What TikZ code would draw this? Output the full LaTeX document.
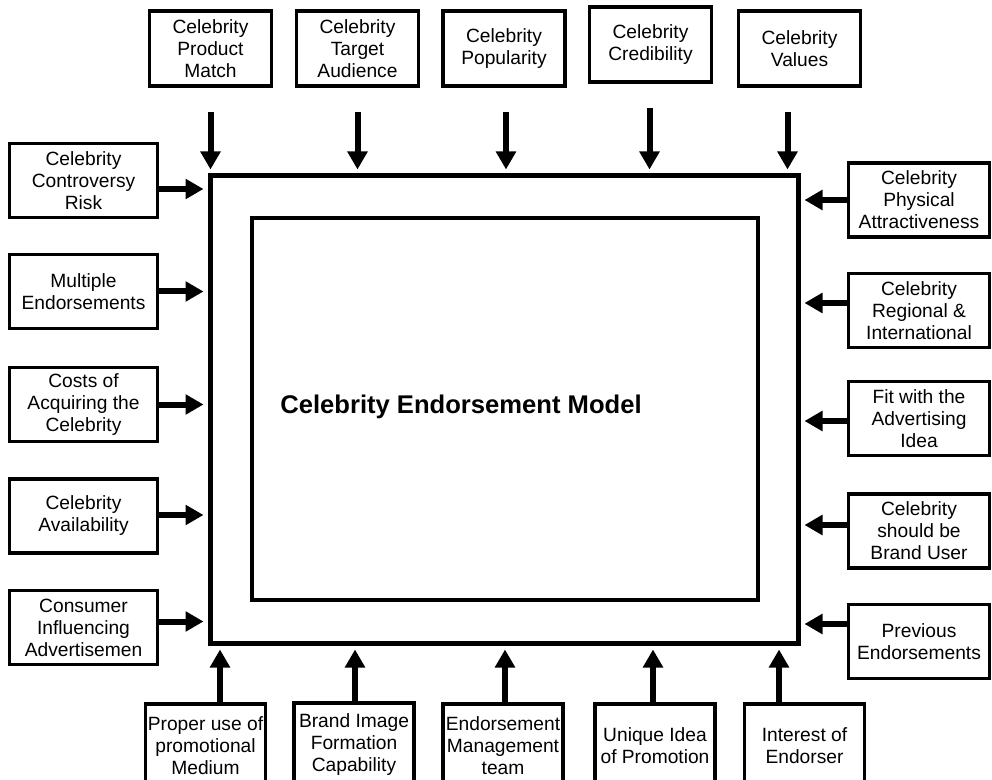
\documentclass[tikz,border=0pt]{standalone}
\usepackage{fontspec}
\setmainfont{Liberation Sans}
\usetikzlibrary{calc,arrows.meta}
\newcommand{\px}{0.75pt}
\newcommand{\boxline}{2.6pt}

\tikzset{
  box/.style={draw, line width=\boxline, align=center, inner sep=0pt,
    font=\fontsize{14.4pt}{16.5pt}\selectfont},
  topbox/.style={box, minimum width=122*\px, minimum height=75*\px},
  leftbox/.style={box, minimum width=148*\px, minimum height=74*\px},
  rightbox/.style={box, minimum width=141*\px, minimum height=74*\px},
  botbox/.style={box, minimum width=120*\px, minimum height=84*\px},
  arr/.style={line width=4.5pt, -{Triangle[width=14.5pt,length=13.5pt]}, shorten >=3pt},
}

\begin{document}
\begin{tikzpicture}[x=0.75pt, y=-0.75pt]
\useasboundingbox (0,0) rectangle (992,780);
\clip (0,0) rectangle (992,780);

    % model frame
    \node[draw, line width=3.75pt, minimum width=588*\px, minimum height=467*\px] (outer) at (504,409.5) {};
    \node[draw, line width=3.4pt, minimum width=506*\px, minimum height=382*\px] (inner) at (505,409) {};
    \node[font=\bfseries\fontsize{19.2pt}{22pt}\selectfont] (title) at (461,407) {Celebrity Endorsement Model};

    % top
    \node[topbox] (t1) at (210.5,48.5) {Celebrity\\Product\\Match};
    \node[topbox] (t2) at (357.5,48.5) {Celebrity\\Target\\Audience};
    \node[topbox] (t3) at (504,48.5) {Celebrity\\Popularity};
    \node[topbox] (t4) at (650.5,44.5) {Celebrity\\Credibility};
    \node[topbox] (t5) at (799.5,48.5) {Celebrity\\Values};

    % left
    \node[leftbox] (l1) at (83.5,180.5) {Celebrity\\Controversy\\Risk};
    \node[leftbox] (l2) at (83.5,291.5) {Multiple\\Endorsements};
    \node[leftbox] (l3) at (83.5,404.5) {Costs of\\Acquiring the\\Celebrity};
    \node[leftbox] (l4) at (83.5,516) {Celebrity\\Availability};
    \node[leftbox] (l5) at (83.5,627.5) {Consumer\\Influencing\\Advertisemen};

    % right
    \node[rightbox] (r1) at (919,200) {Celebrity\\Physical\\Attractiveness};
    \node[rightbox] (r2) at (919,310.5) {Celebrity\\Regional \&\\International};
    \node[rightbox] (r3) at (919,418.5) {Fit with the\\Advertising\\Idea};
    \node[rightbox] (r4) at (919,531) {Celebrity\\should be\\Brand User};
    \node[rightbox] (r5) at (919,641.5) {Previous\\Endorsements};

    % bottom
    \node[botbox] (b1) at (205.5,746) {Proper use of\\promotional\\Medium};
    \node[botbox] (b2) at (354,745) {Brand Image\\Formation\\Capability};
    \node[botbox] (b3) at (503,746) {Endorsement\\Management\\team};
    \node[botbox] (b4) at (655,746) {Unique Idea\\of Promotion};
    \node[botbox] (b5) at (804.5,746) {Interest of\\Endorser};

    % arrows
    \foreach \n/\d in {1/0,2/0,3/2,4/-1,5/-12} {
        \draw[arr] ($(t\n.south)+(\d,24)$) coordinate (ts\n) -- (ts\n |- outer.north);
    }
    \foreach \n/\d in {1/8.5,2/0,3/0,4/-1,5/-6} {
        \draw[arr] ($(l\n.east)+(0,\d)$) coordinate (ls\n) -- (ls\n -| outer.west);
    }
    \foreach \n/\d in {1/0,2/-7.5,3/2.5,4/-6,5/-17.5} {
        \draw[arr] ($(r\n.west)+(0,\d)$) coordinate (rs\n) -- (rs\n -| outer.east);
    }
    \foreach \n/\d in {1/14.5,2/1,3/2,4/-2,5/-25.5} {
        \draw[arr] ($(b\n.north)+(\d,0)$) coordinate (bs\n) -- (bs\n |- outer.south);
    }
\end{tikzpicture}
\end{document}
